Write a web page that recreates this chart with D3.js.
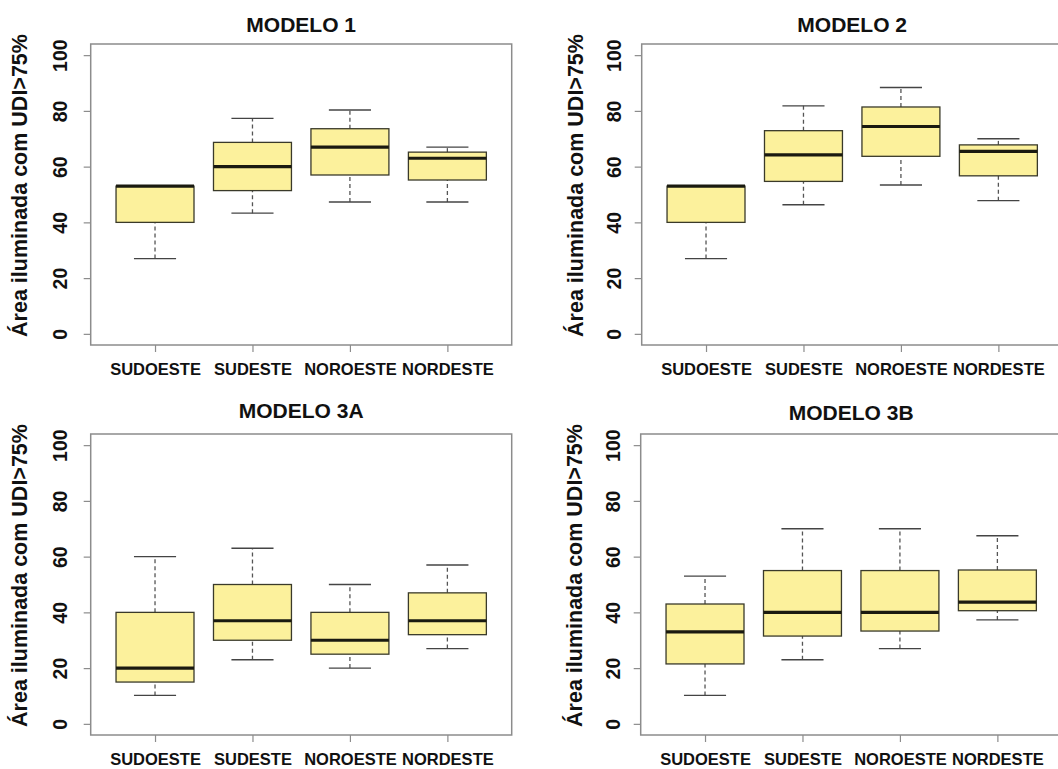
<!DOCTYPE html>
<html>
<head>
<meta charset="utf-8">
<script src="https://cdn.jsdelivr.net/npm/d3@7"></script>
<style>
  html, body { margin: 0; padding: 0; background: #fff; }
  svg text { font-family: "Liberation Sans", Arial, sans-serif; font-weight: bold; fill: #111; }
</style>
</head>
<body>
<svg id="chart" width="1058" height="769"></svg>
<script>
// Orientation categories shared by every panel
const categories = ["SUDOESTE", "SUDESTE", "NOROESTE", "NORDESTE"];
const yTicks = [0, 20, 40, 60, 80, 100];
const yLabel = "Área iluminada com UDI>75%";

// Five-number summaries per category: [min, Q1, median, Q3, max]
const modelo1 = [
  [27, 40, 53, 53, 53],
  [43.3, 51.4, 60, 68.7, 77.3],
  [47.3, 57, 67, 73.6, 80.3],
  [47.3, 55.2, 63, 65.2, 67]
];
const modelo2 = [
  [27, 40, 53, 53, 53],
  [46.3, 54.7, 64.2, 72.9, 81.8],
  [53.4, 63.7, 74.4, 81.4, 88.4],
  [47.8, 56.7, 65.5, 67.8, 70]
];
const modelo3A = [
  [10.2, 15, 20, 40, 60],
  [23, 30, 37, 50, 63],
  [20, 25, 30, 40, 50],
  [27, 32, 37, 47, 57]
];
const modelo3B = [
  [10.2, 21.5, 33, 43, 53],
  [23, 31.5, 40, 55, 70],
  [27, 33.3, 40, 55, 70],
  [37.3, 40.6, 43.7, 55.2, 67.5]
];

const panels = [
  { title: "MODELO 1",  data: modelo1,  x0: 90.7,  y0: 44,  w: 421, h: 301, titleDy: 12, tickDx: 23.5, labelDx: 63.5 },
  { title: "MODELO 2",  data: modelo2,  x0: 641.7, y0: 44,  w: 421, h: 301, titleDy: 12, tickDx: 20.5, labelDx: 59 },
  { title: "MODELO 3A", data: modelo3A, x0: 90.7,  y0: 434, w: 421, h: 301, titleDy: 16.5, tickDx: 23.5, labelDx: 63.5 },
  { title: "MODELO 3B", data: modelo3B, x0: 640.7, y0: 434, w: 421, h: 301, titleDy: 14, tickDx: 20.5, labelDx: 59 }
];

const svg = d3.select("#chart");
const frameColor = "#8c8c8c";
const boxFill = "#fcf19c";
const boxStroke = "#3a3a2a";

panels.forEach(p => {
  const g = svg.append("g").attr("transform", `translate(${p.x0},${p.y0})`);

  // Extended ranges like base R graphics (4% padding)
  const y = d3.scaleLinear().domain([-4, 104]).range([p.h, 0]);
  const x = d3.scaleLinear().domain([0.34, 4.66]).range([0, p.w]);
  const step = x(2) - x(1);
  const boxW = step * 0.8;
  const capW = boxW * 0.54;

  // Y axis (ticks outward, labels rotated)
  const yAxis = g.append("g")
    .call(d3.axisLeft(y).tickValues(yTicks).tickSize(7).tickFormat(d3.format("d")));
  yAxis.select(".domain").remove();
  yAxis.selectAll(".tick line").attr("stroke", frameColor).attr("stroke-width", 1.2);
  yAxis.selectAll(".tick text")
    .attr("x", 0).attr("dy", 0)
    .attr("y", -p.tickDx)
    .attr("transform", "rotate(-90)")
    .attr("text-anchor", "middle")
    .style("font-size", "19.5px")
    .style("font-family", "'Liberation Sans', Arial, sans-serif")
    .style("font-weight", "bold")
    .attr("fill", "#111");

  // X axis (categories)
  const xAxis = g.append("g").attr("transform", `translate(0,${p.h})`)
    .call(d3.axisBottom(x).tickValues([1, 2, 3, 4]).tickSize(7)
      .tickFormat(d => categories[d - 1]));
  xAxis.select(".domain").remove();
  xAxis.selectAll(".tick line").attr("stroke", frameColor).attr("stroke-width", 1.2);
  xAxis.selectAll(".tick text")
    .attr("y", 30).attr("dy", 0)
    .style("font-size", "16.5px")
    .style("font-family", "'Liberation Sans', Arial, sans-serif")
    .style("font-weight", "bold")
    .attr("fill", "#111");

  // Boxes
  const boxes = g.selectAll("g.box").data(p.data).join("g").attr("class", "box");

  // whiskers
  boxes.append("line")
    .attr("x1", (d, i) => x(i + 1)).attr("x2", (d, i) => x(i + 1))
    .attr("y1", d => y(d[0])).attr("y2", d => y(d[1]))
    .attr("stroke", "#555").attr("stroke-width", 1.3).attr("stroke-dasharray", "4,3");
  boxes.append("line")
    .attr("x1", (d, i) => x(i + 1)).attr("x2", (d, i) => x(i + 1))
    .attr("y1", d => y(d[3])).attr("y2", d => y(d[4]))
    .attr("stroke", "#555").attr("stroke-width", 1.3).attr("stroke-dasharray", "4,3");
  // caps
  [0, 4].forEach(k => {
    boxes.append("line")
      .attr("x1", (d, i) => x(i + 1) - capW / 2).attr("x2", (d, i) => x(i + 1) + capW / 2)
      .attr("y1", d => y(d[k])).attr("y2", d => y(d[k]))
      .attr("stroke", "#444").attr("stroke-width", 1.4);
  });
  // box body
  boxes.append("rect")
    .attr("x", (d, i) => x(i + 1) - boxW / 2)
    .attr("width", boxW)
    .attr("y", d => y(d[3]))
    .attr("height", d => y(d[1]) - y(d[3]))
    .attr("fill", boxFill)
    .attr("stroke", boxStroke).attr("stroke-width", 1.3);
  // median
  boxes.append("line")
    .attr("x1", (d, i) => x(i + 1) - boxW / 2).attr("x2", (d, i) => x(i + 1) + boxW / 2)
    .attr("y1", d => y(d[2])).attr("y2", d => y(d[2]))
    .attr("stroke", "#1a1a10").attr("stroke-width", 3.2);

  // Plot frame
  g.append("rect")
    .attr("x", 0).attr("y", 0).attr("width", p.w).attr("height", p.h)
    .attr("fill", "none").attr("stroke", frameColor).attr("stroke-width", 1.5);

  // Title
  g.append("text")
    .attr("x", p.w / 2).attr("y", -p.titleDy)
    .attr("text-anchor", "middle")
    .style("font-size", "21px")
    .text(p.title);

  // Y axis label
  g.append("text")
    .attr("transform", `translate(${-p.labelDx},${p.h / 2 - 9}) rotate(-90)`)
    .attr("text-anchor", "middle")
    .style("font-size", "21.5px")
    .text(yLabel);
});
</script>
</body>
</html>
